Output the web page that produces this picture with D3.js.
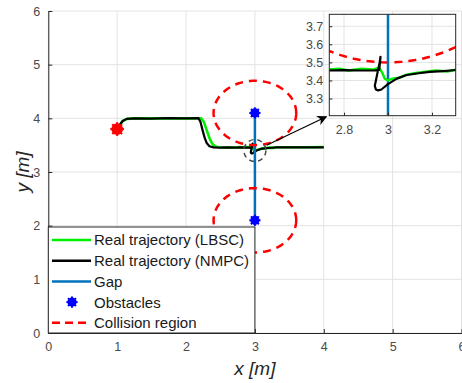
<!DOCTYPE html>
<html>
<head>
<meta charset="utf-8">
<script src="https://cdn.jsdelivr.net/npm/d3@7"></script>
<style>
  body { margin: 0; background: #fff; }
  svg { display: block; font-family: "Liberation Sans", Arial, Helvetica, sans-serif; }
</style>
</head>
<body>
<script>
const width = 462
const height = 383

// ticks
const xTicks = [0, 1, 2, 3, 4, 5, 6]
const yTicks = [0, 1, 2, 3, 4, 5, 6]
const insetXTicks = [2.8, 3, 3.2]
const insetYTicks = [3.3, 3.4, 3.5, 3.6, 3.7]

// trajectories [x, y]
const trajLBSC = [[1.0,3.80],[1.04,3.88],[1.08,3.95],[1.14,3.99],[1.25,4.0],[1.5,4.0],[1.75,4.0],[2.0,4.0],
  [2.22,4.0],[2.26,3.93],[2.30,3.78],[2.34,3.63],[2.38,3.53],[2.42,3.48],[2.47,3.46],[2.6,3.455],
  [2.73,3.46],[2.78,3.465],[2.82,3.455],[2.88,3.465],[2.93,3.46],[2.96,3.47],[2.975,3.44],[2.985,3.41],
  [3.0,3.40],[3.02,3.41],[3.05,3.415],[3.08,3.43],[3.12,3.44],[3.18,3.45],[3.22,3.455],[3.27,3.45],
  [3.31,3.46],[3.5,3.46],[3.75,3.46],[4.0,3.465]]
const trajNMPC = [[1.0,3.80],[1.04,3.88],[1.08,3.95],[1.14,3.99],[1.25,4.0],[1.5,3.995],[1.75,4.005],[2.0,4.0],
  [2.18,4.005],[2.21,3.93],[2.24,3.78],[2.27,3.64],[2.30,3.54],[2.34,3.48],[2.40,3.46],[2.5,3.455],
  [2.6,3.458],[2.73,3.455],[2.80,3.457],[2.88,3.455],[2.94,3.456],[2.96,3.458],[2.966,3.53],[2.962,3.50],
  [2.945,3.40],[2.940,3.37],[2.945,3.35],[2.955,3.345],[2.97,3.35],[3.0,3.38],[3.04,3.41],[3.085,3.43],
  [3.14,3.44],[3.19,3.447],[3.25,3.452],[3.31,3.458],[3.5,3.46],[3.75,3.458],[4.0,3.46]]

const start = [1, 3.8]
const obstacles = [[3, 4.1], [3, 2.1]]
const collisionRadius = 0.6
const zoomCenter = [3, 3.4]

const legendItems = ["Real trajectory (LBSC)", "Real trajectory (NMPC)", "Gap", "Obstacles", "Collision region"]

const colors = {lbsc: "#00ee00", nmpc: "#000000", gap: "#0072BD", obs: "#0000ff", coll: "#ff0000", start: "#ff0000"}

const x = d3.scaleLinear().domain([0, 6]).range([48.3, 461.5])
const y = d3.scaleLinear().domain([0, 6]).range([333, 11])

const ix = d3.scaleLinear().domain([2.733, 3.308]).range([329.3, 455.7])
const iy = d3.scaleLinear().domain([3.205, 3.766]).range([115.7, 14.3])

const svg = d3.select("body").append("svg")
  .attr("width", width).attr("height", height)

const circlePts = c => d3.range(0, 361, 3).map(a => [c[0] + collisionRadius * Math.cos(a * Math.PI / 180), c[1] + collisionRadius * Math.sin(a * Math.PI / 180)])

// matlab-like '*' marker drawn with a thick line -> looks like a blob
function drawMarker(g, px, py, color, r) {
  g.append("circle").attr("cx", px).attr("cy", py).attr("r", r - 0.4).attr("fill", color)
  const m = g.append("g").attr("transform", `translate(${px},${py})`)
    .attr("stroke", color).attr("stroke-width", 2).attr("stroke-linecap", "butt")
  d3.range(0, 180, 45).forEach(a => {
    const c = Math.cos(a * Math.PI / 180) * (r + 0.6), s = Math.sin(a * Math.PI / 180) * (r + 0.6)
    m.append("line").attr("x1", -c).attr("y1", -s).attr("x2", c).attr("y2", s)
  })
}

// grid
const grid = svg.append("g").attr("stroke", "#e3e3e3").attr("stroke-width", 1)
grid.selectAll(".gx").data(xTicks).join("line")
  .attr("x1", d => x(d)).attr("x2", d => x(d)).attr("y1", y(0)).attr("y2", y(6))
grid.selectAll(".gy").data(yTicks).join("line")
  .attr("x1", x(0)).attr("x2", x(6)).attr("y1", d => y(d)).attr("y2", d => y(d))

// axes
const xAxis = svg.append("g").attr("transform", `translate(0,${y(0)})`)
  .call(d3.axisBottom(x).tickValues(xTicks).tickSizeInner(-4).tickSizeOuter(0).tickPadding(9).tickFormat(d3.format("d")))
const yAxis = svg.append("g").attr("transform", `translate(${x(0)},0)`)
  .call(d3.axisLeft(y).tickValues(yTicks).tickSizeInner(-4).tickSizeOuter(0).tickPadding(8).tickFormat(d3.format("d")))
;[xAxis, yAxis].forEach(a => {
  a.select(".domain").attr("stroke", "#262626")
  a.selectAll(".tick line").attr("stroke", "#262626")
  a.selectAll(".tick text").attr("fill", "#4a4a4a").attr("font-size", 12.5)
})

svg.append("text").attr("x", x(3)).attr("y", 375).attr("text-anchor", "middle")
  .attr("font-size", 19).attr("font-style", "italic").attr("fill", "#262626").text("x [m]")
svg.append("text").attr("transform", `translate(29,${y(3)}) rotate(-90)`).attr("text-anchor", "middle")
  .attr("font-size", 19).attr("font-style", "italic").attr("fill", "#262626").text("y [m]")

// main plot content
const line = d3.line().x(d => x(d[0])).y(d => y(d[1]))

svg.append("path").datum(trajLBSC).attr("d", line).attr("fill", "none")
  .attr("stroke", colors.lbsc).attr("stroke-width", 2.6).attr("stroke-linejoin", "round")
svg.append("path").datum(trajNMPC).attr("d", line).attr("fill", "none")
  .attr("stroke", colors.nmpc).attr("stroke-width", 2.2).attr("stroke-linejoin", "round")

svg.append("path").datum(obstacles).attr("d", line)
  .attr("stroke", colors.gap).attr("stroke-width", 2.5)

obstacles.forEach(o => {
  svg.append("path").datum(circlePts(o)).attr("d", line).attr("fill", "none")
    .attr("stroke", colors.coll).attr("stroke-width", 2.5).attr("stroke-dasharray", "8,6")
})
obstacles.forEach(o => drawMarker(svg, x(o[0]), y(o[1]), colors.obs, 5))
drawMarker(svg, x(start[0]), y(start[1]), colors.start, 6.3)

// zoom circle + arrow
svg.append("circle").attr("cx", x(zoomCenter[0])).attr("cy", y(zoomCenter[1])).attr("r", 11)
  .attr("fill", "none").attr("stroke", "#4a4a4a").attr("stroke-width", 1.5).attr("stroke-dasharray", "5,4")

svg.append("defs").append("marker").attr("id", "ah")
  .attr("viewBox", "0 0 10 10").attr("refX", 9).attr("refY", 5)
  .attr("markerWidth", 10).attr("markerHeight", 10).attr("markerUnits", "userSpaceOnUse")
  .attr("orient", "auto")
  .append("path").attr("d", "M0,0 L10,5 L0,10 L3,5 Z").attr("fill", "#000")
svg.append("line").attr("x1", x(3.17)).attr("y1", y(3.5)).attr("x2", ix(2.733) - 3).attr("y2", iy(3.205) + 1)
  .attr("stroke", "#000").attr("stroke-width", 1.2).attr("marker-end", "url(#ah)")

// legend
const lg = svg.append("g")
const lgTop = 227, lgStep = 20.7
lg.append("rect").attr("x", x(0)).attr("y", lgTop).attr("width", x(3) - x(0)).attr("height", y(0) - lgTop)
  .attr("fill", "#fff").attr("stroke", "#262626").attr("stroke-width", 1)
legendItems.forEach((t, i) => {
  const cy = lgTop + 13 + i * lgStep
  if (i === 3) {
    drawMarker(lg, 72, cy, colors.obs, 5)
  } else {
    const col = [colors.lbsc, colors.nmpc, colors.gap, null, colors.coll][i]
    lg.append("line").attr("x1", 52).attr("x2", 91).attr("y1", cy).attr("y2", cy)
      .attr("stroke", col).attr("stroke-width", 2.5)
      .attr("stroke-dasharray", i === 4 ? "8,5" : null)
  }
  lg.append("text").attr("x", 94).attr("y", cy).attr("dy", "0.36em")
    .attr("font-size", 15).attr("fill", "#1a1a1a").text(t)
})

// inset
const ins = svg.append("g")
ins.append("rect").attr("x", ix.range()[0]).attr("y", iy.range()[1])
  .attr("width", ix.range()[1] - ix.range()[0]).attr("height", iy.range()[0] - iy.range()[1]).attr("fill", "#fff")
ins.append("clipPath").attr("id", "ic").append("rect")
  .attr("x", ix.range()[0]).attr("y", iy.range()[1])
  .attr("width", ix.range()[1] - ix.range()[0]).attr("height", iy.range()[0] - iy.range()[1])

const ig = ins.append("g").attr("stroke", "#e3e3e3")
ig.selectAll(".a").data(insetXTicks).join("line")
  .attr("x1", d => ix(d)).attr("x2", d => ix(d)).attr("y1", iy.range()[0]).attr("y2", iy.range()[1])
ig.selectAll(".b").data(insetYTicks).join("line")
  .attr("x1", ix.range()[0]).attr("x2", ix.range()[1]).attr("y1", d => iy(d)).attr("y2", d => iy(d))

const iline = d3.line().x(d => ix(d[0])).y(d => iy(d[1]))
const ic = ins.append("g").attr("clip-path", "url(#ic)")
ic.append("path").datum(circlePts(obstacles[0])).attr("d", iline).attr("fill", "none")
  .attr("stroke", colors.coll).attr("stroke-width", 2.5).attr("stroke-dasharray", "8,6")
ic.append("path").datum(obstacles).attr("d", iline).attr("stroke", colors.gap).attr("stroke-width", 2.5)
ic.append("path").datum(trajLBSC).attr("d", iline).attr("fill", "none")
  .attr("stroke", colors.lbsc).attr("stroke-width", 2.5).attr("stroke-linejoin", "round")
ic.append("path").datum(trajNMPC).attr("d", iline).attr("fill", "none")
  .attr("stroke", colors.nmpc).attr("stroke-width", 2.2).attr("stroke-linejoin", "round")

const ixAxis = ins.append("g").attr("transform", `translate(0,${iy.range()[0]})`)
  .call(d3.axisBottom(ix).tickValues(insetXTicks).tickSizeInner(-3).tickSizeOuter(0).tickPadding(9).tickFormat(d3.format("~g")))
const iyAxis = ins.append("g").attr("transform", `translate(${ix.range()[0]},0)`)
  .call(d3.axisLeft(iy).tickValues(insetYTicks).tickSizeInner(-3).tickSizeOuter(0).tickPadding(6).tickFormat(d3.format(".1f")))
;[ixAxis, iyAxis].forEach(a => {
  a.select(".domain").remove()
  a.selectAll(".tick line").attr("stroke", "#262626")
  a.selectAll(".tick text").attr("fill", "#4a4a4a").attr("font-size", 12.5)
})
ins.append("rect").attr("x", ix.range()[0]).attr("y", iy.range()[1])
  .attr("width", ix.range()[1] - ix.range()[0]).attr("height", iy.range()[0] - iy.range()[1])
  .attr("fill", "none").attr("stroke", "#262626").attr("stroke-width", 1)
</script>
</body>
</html>
